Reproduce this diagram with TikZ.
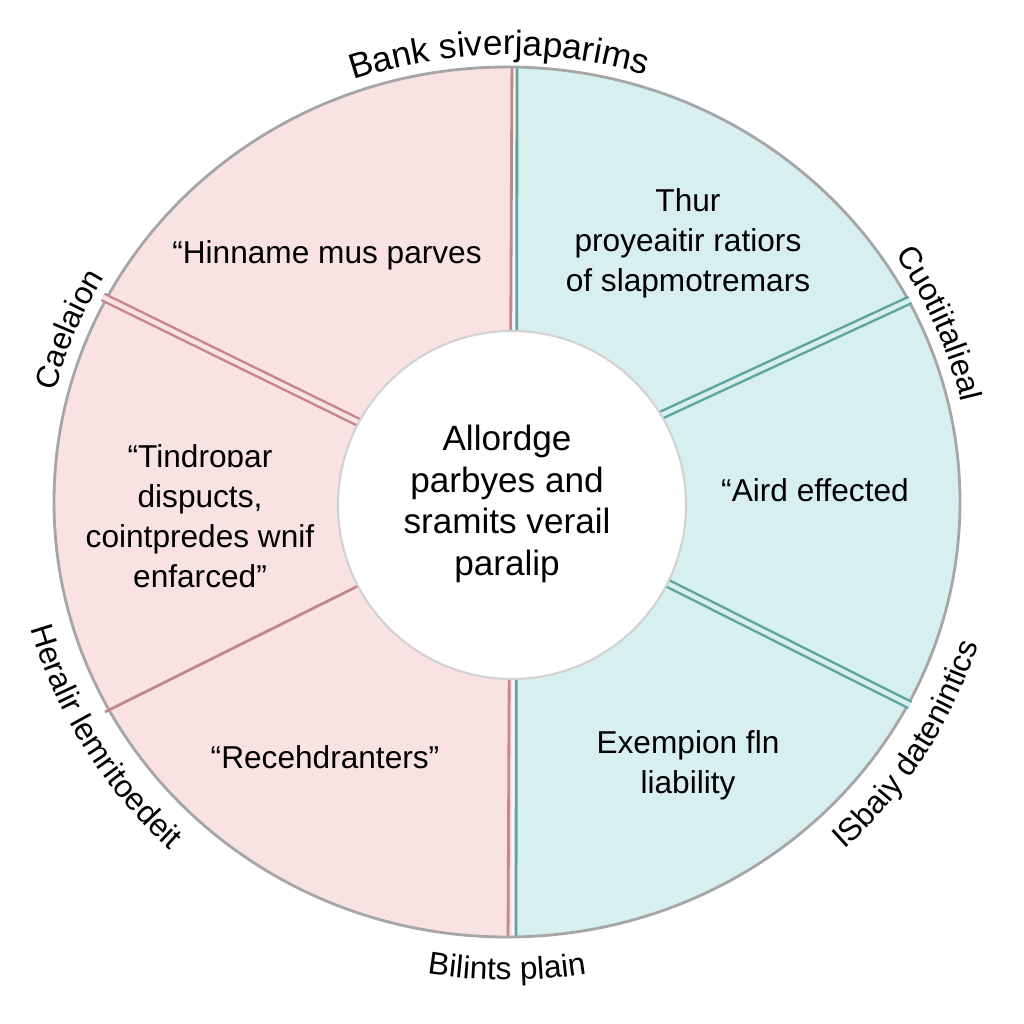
\documentclass[tikz,border=0pt]{standalone}
\usepackage{fontspec}
\setmainfont{Liberation Sans}
\usetikzlibrary{decorations.text}

\definecolor{rosefill}{HTML}{F8E2E2}
\definecolor{tealfill}{HTML}{D7EFEF}
\definecolor{roseline}{HTML}{C4868A}
\definecolor{tealline}{HTML}{5BA6A0}
\newcommand\rimfont{\fontsize{10}{12}\selectfont}
\newcommand\rimsmallfont{\fontsize{9}{11}\selectfont}

\tikzset{
  seglabel/.style={font=\fontsize{9}{11.4}\selectfont, align=center},
  hubtext/.style={font=\fontsize{10}{11.9}\selectfont, align=center},
  rim/.style={decorate, decoration={text along path, text align=center, text={|\rimfont|#1}}},
  rimsmall/.style={decorate, decoration={text along path, text align=center, text={|\rimsmallfont|#1}}},
  rosespoke/.style={roseline, line width=0.7pt, double=rosefill, double distance=0.045cm},
  tealspoke/.style={tealline, line width=0.7pt, double=tealfill, double distance=0.045cm},
}

\begin{document}
\begin{tikzpicture}
\useasboundingbox (0,0) rectangle (10.24,10.24);
\fill[white] (0,0) rectangle (10.24,10.24);

% two halves
\begin{scope}
\clip (5.07,5.22) ellipse [x radius=4.53, y radius=4.35];
\fill[rosefill] (0.4,0.8) rectangle (5.12,9.7);
\fill[tealfill] (5.17,0.8) rectangle (9.7,9.7);
\fill[rosefill!40] (5.12,0.8) rectangle (5.17,9.7);
\draw[roseline, line width=0.8pt] (5.08,0.8) -- (5.12,9.7);
\draw[tealline, line width=0.8pt] (5.16,0.8) -- (5.17,9.7);
\end{scope}
\draw[gray!70, line width=0.8pt] (5.07,5.22) ellipse [x radius=4.53, y radius=4.35];

% spokes
\coordinate (ulout) at (1.03,7.27);
\coordinate (ulin) at (3.60,6.01);
\coordinate (urout) at (9.10,7.24);
\coordinate (urin) at (6.55,6.06);
\coordinate (llout) at (1.05,3.12);
\coordinate (llin) at (3.62,4.40);
\coordinate (lrout) at (9.10,3.19);
\coordinate (lrin) at (6.55,4.47);
\draw[rosespoke] (ulout) -- (ulin);
\draw[tealspoke] (urout) -- (urin);
\draw[roseline, line width=0.8pt] (llout) -- (llin);
\draw[tealspoke] (lrout) -- (lrin);

% hub
\node[circle, fill=white, draw=gray!35, line width=0.6pt, minimum size=3.48cm] (hub) at (5.12,5.19) {};
\node[hubtext] (hubtxt) at (5.07,5.20) {Allordge\\parbyes and\\sramits verail\\paralip};

% segment texts
\node[seglabel] (hin) at (3.27,7.69) {“Hinname mus parves};
\node[seglabel] (thur) at (6.88,7.81) {Thur\\proyeaitir ratiors\\of slapmotremars};
\node[seglabel] (tind) at (2.00,5.08) {“Tindroɒar\\dispucts,\\cointpredes wnif\\enfarced”};
\node[seglabel] (aird) at (8.15,5.34) {“Aird effected};
\node[seglabel] (rece) at (3.25,2.67) {“Recehdranters”};
\node[seglabel] (exem) at (6.88,2.59) {Exempion fln\\liability};

% rim labels
\path[rim=Bank siverjaparims] (5.07,5.22) ++(123:4.65cm and 4.47cm) arc[start angle=123, end angle=59, x radius=4.65, y radius=4.47];
\path[rimsmall=Caelaion] (5.07,5.22) ++(190:4.66cm and 4.48cm) arc[start angle=190, end angle=126, x radius=4.66, y radius=4.48];
\path[rimsmall=Cuotiitalieal] (5.07,5.22) ++(55:4.66cm and 4.48cm) arc[start angle=55, end angle=-9, x radius=4.66, y radius=4.48];
\path[rimsmall=Heralir lemritoedeit] (5.07,5.22) ++(179:4.94cm and 4.76cm) arc[start angle=179, end angle=243, x radius=4.94, y radius=4.76];
\path[rimsmall=Bilints plain] (5.07,5.22) ++(238:4.96cm and 4.78cm) arc[start angle=238, end angle=302, x radius=4.96, y radius=4.78];
\path[rimsmall=ISbaiy datenintics] (5.07,5.22) ++(-64:4.94cm and 4.76cm) arc[start angle=-64, end angle=0, x radius=4.94, y radius=4.76];
\end{tikzpicture}
\end{document}
